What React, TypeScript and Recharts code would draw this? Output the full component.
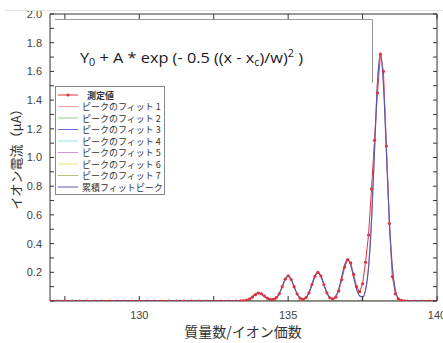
import React from 'react';
import { LineChart, Line, XAxis, YAxis } from 'recharts';

// ---- data ----
const measuredMass = [
  127, 127.25, 127.5, 127.75, 128, 128.25, 128.5, 128.75, 129, 129.25, 129.5, 129.75, 130,
  130.25, 130.5, 130.75, 131, 131.25, 131.5, 131.75, 132, 132.25, 132.5, 132.75, 133, 133.25,
  133.4, 133.5, 133.6, 133.7, 133.8, 133.9,
  134.0, 134.1, 134.2, 134.3, 134.4, 134.5, 134.6, 134.7, 134.8, 134.9,
  135.0, 135.1, 135.2, 135.3, 135.4, 135.5, 135.6, 135.7, 135.8, 135.9,
  136.0, 136.1, 136.2, 136.3, 136.4, 136.5, 136.6, 136.7, 136.8, 136.9,
  137.0, 137.1, 137.2, 137.3, 137.4, 137.5, 137.6, 137.7, 137.8, 137.9,
  138.0, 138.1, 138.2, 138.3, 138.4, 138.5, 138.6, 138.7, 138.8, 138.9,
  139.0, 139.25, 139.5, 139.75, 140,
];
const measuredCurrent = [
  0, 0, 0, 0, 0, 0, 0, 0, 0, 0, 0, 0, 0,
  0, 0, 0, 0, 0, 0, 0, 0, 0, 0, 0, 0, 0,
  0.001, 0.003, 0.006, 0.013, 0.027, 0.044,
  0.055, 0.05, 0.036, 0.021, 0.012, 0.012, 0.024, 0.05, 0.1, 0.152,
  0.175, 0.15, 0.1, 0.05, 0.02, 0.011, 0.024, 0.057, 0.115, 0.172,
  0.2, 0.174, 0.115, 0.057, 0.022, 0.015, 0.027, 0.07, 0.148, 0.237,
  0.288, 0.265, 0.185, 0.1, 0.065, 0.12, 0.27, 0.46, 0.78, 1.12,
  1.45, 1.72, 1.6, 1.08, 0.54, 0.17, 0.05, 0.015, 0.005, 0.001,
  0, 0, 0, 0, 0,
];

const cumulativeMass = [
  127,
  133.3, 133.4, 133.5, 133.6, 133.7, 133.8, 133.9,
  134.0, 134.1, 134.2, 134.3, 134.4, 134.5, 134.6, 134.7, 134.8, 134.9,
  135.0, 135.1, 135.2, 135.3, 135.4, 135.5, 135.6, 135.7, 135.8, 135.9,
  136.0, 136.1, 136.2, 136.3, 136.4, 136.5, 136.6, 136.7, 136.8, 136.9,
  137.0, 137.1, 137.2, 137.3, 137.4, 137.5, 137.6, 137.7, 137.8, 137.9,
  138.0, 138.1, 138.2, 138.3, 138.4, 138.5, 138.6, 138.7, 138.8, 138.9,
  140,
];
const cumulativeCurrent = [
  0,
  0, 0.0004, 0.002, 0.006, 0.016, 0.032, 0.048,
  0.055, 0.048, 0.032, 0.016, 0.007, 0.007, 0.019, 0.05, 0.1, 0.152,
  0.175, 0.152, 0.1, 0.05, 0.02, 0.011, 0.023, 0.057, 0.115, 0.174,
  0.2, 0.174, 0.115, 0.057, 0.024, 0.015, 0.033, 0.083, 0.167, 0.253,
  0.29, 0.253, 0.167, 0.083, 0.036, 0.028, 0.078, 0.233, 0.558, 1.043,
  1.518, 1.72, 1.518, 1.043, 0.558, 0.233, 0.076, 0.019, 0.004, 0,
  0,
];

const fit1Mass = [133.3, 133.4, 133.5, 133.6, 133.7, 133.8, 133.9, 134.0, 134.1, 134.2, 134.3, 134.4, 134.5, 134.6, 134.7];
const fit1Current = [0, 0.0004, 0.002, 0.006, 0.016, 0.032, 0.048, 0.055, 0.048, 0.032, 0.016, 0.006, 0.002, 0.0004, 0];
const fit2Mass = [134.3, 134.4, 134.5, 134.6, 134.7, 134.8, 134.9, 135.0, 135.1, 135.2, 135.3, 135.4, 135.5, 135.6, 135.7];
const fit2Current = [0, 0.001, 0.005, 0.019, 0.05, 0.1, 0.152, 0.175, 0.152, 0.1, 0.05, 0.019, 0.005, 0.001, 0];
const fit3Mass = [135.3, 135.4, 135.5, 135.6, 135.7, 135.8, 135.9, 136.0, 136.1, 136.2, 136.3, 136.4, 136.5, 136.6, 136.7];
const fit3Current = [0, 0.0013, 0.006, 0.022, 0.057, 0.115, 0.174, 0.2, 0.174, 0.115, 0.057, 0.022, 0.006, 0.0013, 0];
const fit4Mass = [136.3, 136.4, 136.5, 136.6, 136.7, 136.8, 136.9, 137.0, 137.1, 137.2, 137.3, 137.4, 137.5, 137.6, 137.7];
const fit4Current = [0, 0.002, 0.009, 0.032, 0.083, 0.167, 0.253, 0.29, 0.253, 0.167, 0.083, 0.032, 0.009, 0.002, 0];
const fit5Mass = [137.3, 137.4, 137.5, 137.6, 137.7, 137.8, 137.9, 138.0, 138.1, 138.2, 138.3, 138.4, 138.5, 138.6, 138.7, 138.8, 138.9];
const fit5Current = [0, 0.004, 0.019, 0.076, 0.233, 0.558, 1.043, 1.518, 1.72, 1.518, 1.043, 0.558, 0.233, 0.076, 0.019, 0.004, 0];
const fit6Mass = [133.3, 138.9];
const fit6Current = [0, 0];
const fit7Mass = [133.3, 138.9];
const fit7Current = [0, 0];

const xTicks = [127.5, 130, 132.5, 135, 137.5, 140];
const xTickLabels = ['', '130', '', '135', '', '140'];
const yTicks = [0, 0.1, 0.2, 0.3, 0.4, 0.5, 0.6, 0.7, 0.8, 0.9, 1.0, 1.1, 1.2, 1.3, 1.4, 1.5, 1.6, 1.7, 1.8, 1.9, 2.0];
const yTickLabels = ['', '', '0.2', '', '0.4', '', '0.6', '', '0.8', '', '1.0', '', '1.2', '', '1.4', '', '1.6', '', '1.8', '', '2.0'];

const seriesNames = [
  '測定値',
  'ピークのフィット 1',
  'ピークのフィット 2',
  'ピークのフィット 3',
  'ピークのフィット 4',
  'ピークのフィット 5',
  'ピークのフィット 6',
  'ピークのフィット 7',
  '累積フィットピーク',
];
const seriesColors = [
  '#e2323a',
  '#f2a0a0',
  '#8cd68c',
  '#6a6ae0',
  '#90e6e6',
  '#e08ee0',
  '#eeee6a',
  '#b4c478',
  '#5a5aa8',
];

const toPoints = (xs: number[], ys: number[]) => xs.map((x, i) => ({ x, y: ys[i] }));

const measured = toPoints(measuredMass, measuredCurrent);
const cumulative = toPoints(cumulativeMass, cumulativeCurrent);
const fits = [
  toPoints(fit1Mass, fit1Current),
  toPoints(fit2Mass, fit2Current),
  toPoints(fit3Mass, fit3Current),
  toPoints(fit4Mass, fit4Current),
  toPoints(fit5Mass, fit5Current),
  toPoints(fit6Mass, fit6Current),
  toPoints(fit7Mass, fit7Current),
];

const W = 443;
const H = 343;
const tickFont = { fill: '#444', fontSize: 11, fontFamily: 'Liberation Sans, Arial, sans-serif' };

const xLabel = (v: number) => {
  const i = xTicks.findIndex((t) => Math.abs(t - v) < 1e-6);
  return i >= 0 ? xTickLabels[i] : '';
};
const yLabel = (v: number) => {
  const i = yTicks.findIndex((t) => Math.abs(t - v) < 1e-6);
  return i >= 0 ? yTickLabels[i] : '';
};

export default function App() {
  const rowY = (i: number) => 95 + i * 11.5;
  return (
    <div style={{ position: 'absolute', left: 0, top: 0, width: W, height: H, background: '#fff' }}>
      <LineChart
        width={W}
        height={H}
        margin={{ top: 12, right: 4, bottom: 0, left: 0 }}
        style={{ fontFamily: 'Liberation Sans, Arial, sans-serif' }}
      >
        <XAxis
          xAxisId="b"
          dataKey="x"
          type="number"
          domain={[127, 140]}
          allowDataOverflow
          ticks={xTicks}
          interval={0}
          tickFormatter={xLabel}
          tickSize={-5}
          tickMargin={15}
          height={42}
          stroke="#333"
          tick={tickFont}
        />
        <XAxis
          xAxisId="t"
          orientation="top"
          dataKey="x"
          type="number"
          domain={[127, 140]}
          allowDataOverflow
          ticks={xTicks}
          interval={0}
          tickFormatter={() => ''}
          tickSize={-5}
          height={2}
          stroke="#333"
          tick={tickFont}
        />
        <YAxis
          yAxisId="l"
          type="number"
          domain={[0, 2]}
          allowDataOverflow
          ticks={yTicks}
          interval={0}
          tickFormatter={yLabel}
          tickSize={-4}
          tickMargin={12}
          width={50}
          stroke="#333"
          tick={tickFont}
        />
        <YAxis
          yAxisId="r"
          orientation="right"
          type="number"
          domain={[0, 2]}
          allowDataOverflow
          ticks={yTicks}
          interval={0}
          tickFormatter={() => ''}
          tickSize={-4}
          width={2}
          stroke="#333"
          tick={tickFont}
        />
        <Line
          xAxisId="t"
          yAxisId="r"
          data={cumulative}
          dataKey="y"
          stroke="none"
          dot={false}
          activeDot={false}
          isAnimationActive={false}
        />
        <Line
          xAxisId="b"
          yAxisId="l"
          data={measured}
          dataKey="y"
          type="linear"
          stroke={seriesColors[0]}
          strokeWidth={1}
          dot={false}
          activeDot={false}
          isAnimationActive={false}
        />
        {fits.map((d, i) => (
          <Line
            key={i}
            xAxisId="b"
            yAxisId="l"
            data={d}
            dataKey="y"
            type="monotone"
            stroke={seriesColors[i + 1]}
            strokeWidth={1}
            dot={false}
            activeDot={false}
            isAnimationActive={false}
          />
        ))}
        <Line
          xAxisId="b"
          yAxisId="l"
          data={cumulative}
          dataKey="y"
          type="monotone"
          stroke={seriesColors[8]}
          strokeWidth={1.2}
          dot={false}
          activeDot={false}
          isAnimationActive={false}
        />
        <Line
          xAxisId="b"
          yAxisId="l"
          data={measured}
          dataKey="y"
          type="linear"
          stroke="none"
          dot={{ r: 1.6, fill: seriesColors[0], stroke: seriesColors[0], strokeWidth: 0 }}
          activeDot={false}
          isAnimationActive={false}
        />
      </LineChart>
      <svg
        width={W}
        height={H}
        style={{ position: 'absolute', left: 0, top: 0, pointerEvents: 'none' }}
      >
        <line x1={5} y1={10.5} x2={W} y2={10.5} stroke="#e2e2e2" strokeWidth={1} />
        <path d="M55,19.5 H372.5 V83" fill="none" stroke="#999" strokeWidth={1} />
        <text
          x={80}
          y={63}
          fontSize={15}
          fontFamily="Open Sans, Noto Sans, sans-serif"
          fill="#1a1a1a"
          textLength={223}
          lengthAdjust="spacingAndGlyphs"
        >
          Y<tspan fontSize={10} dy={3}>0</tspan>
          <tspan dy={-3}> + A * exp (- 0.5 ((x - x</tspan>
          <tspan fontSize={10} dy={3}>c</tspan>
          <tspan dy={-3}>)/w)</tspan>
          <tspan fontSize={10} dy={-6}>2</tspan>
          <tspan dy={6}> )</tspan>
        </text>

        <rect x={55.5} y={86.5} width={109} height={108} fill="#fff" stroke="#888" strokeWidth={1} />
        {seriesNames.map((n, i) => (
          <g key={n}>
            <line x1={58} x2={78} y1={rowY(i)} y2={rowY(i)} stroke={seriesColors[i]} strokeWidth={1} />
            {i === 0 && <circle cx={68} cy={rowY(i)} r={1.6} fill={seriesColors[0]} />}
            <text
              x={i === 0 ? 87 : 82}
              y={rowY(i)}
              dominantBaseline="central"
              fontSize={9}
              fontWeight={i === 0 ? 'bold' : 'normal'}
              fontFamily="Noto Sans CJK JP, sans-serif"
              fill="#333"
            >
              {n}
            </text>
          </g>
        ))}

        <text
          x={15}
          y={156}
          transform="rotate(-90 15 156)"
          textAnchor="middle"
          dominantBaseline="central"
          fontSize={13}
          fontFamily="Noto Sans CJK JP, sans-serif"
          fill="#333"
        >
          イオン電流（μA）
        </text>
        <text
          x={243}
          y={337}
          textAnchor="middle"
          fontSize={14}
          fontFamily="Noto Sans CJK JP, sans-serif"
          fill="#333"
        >
          質量数/イオン価数
        </text>
      </svg>
    </div>
  );
}
